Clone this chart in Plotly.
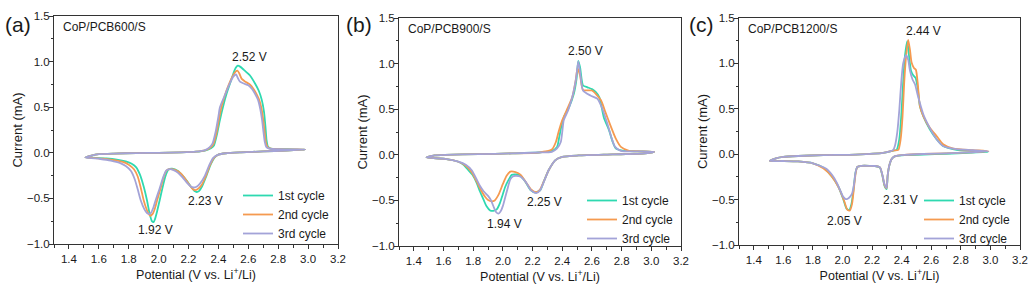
import plotly.graph_objects as go

# ---------------- data ----------------
CYCLES = ["1st cycle", "2nd cycle", "3rd cycle"]
COLORS = ["#2ED9B0", "#F59A50", "#A3A3D8"]
PANEL_TAGS = ["(a)", "(b)", "(c)"]
SAMPLES = ["CoP/PCB600/S", "CoP/PCB900/S", "CoP/PCB1200/S"]

# Panel (a) CoP/PCB600/S
A1_V = [2.98, 2.85, 2.70, 2.55, 2.45, 2.40, 2.375, 2.35, 2.32, 2.29, 2.27, 2.255, 2.24, 2.22, 2.19, 2.16, 2.13, 2.09,
        2.065, 2.045, 2.025, 2.007, 1.99, 1.975, 1.967, 1.955, 1.94, 1.922, 1.90, 1.875, 1.85, 1.82, 1.78, 1.72, 1.65,
        1.58, 1.51,
        1.55, 1.60, 1.70, 1.85, 2.00, 2.15, 2.25, 2.31, 2.35, 2.37, 2.39, 2.41, 2.43, 2.455, 2.48, 2.50, 2.515, 2.53,
        2.545, 2.57, 2.61, 2.645, 2.67, 2.69, 2.705, 2.715, 2.722, 2.732, 2.75, 2.80, 2.90, 2.98]
A1_I = [0.035, 0.025, 0.015, 0.005, -0.005, -0.02, -0.05, -0.12, -0.25, -0.37, -0.42, -0.43, -0.42, -0.38, -0.31,
        -0.25, -0.20, -0.175, -0.185, -0.26, -0.39, -0.52, -0.64, -0.73, -0.76, -0.75, -0.67, -0.52, -0.37, -0.24,
        -0.16, -0.12, -0.095, -0.075, -0.062, -0.055, -0.05,
        -0.03, -0.015, -0.008, -0.003, 0.0, 0.005, 0.012, 0.025, 0.05, 0.08, 0.2, 0.36, 0.5, 0.65, 0.77, 0.87, 0.93,
        0.955, 0.945, 0.91, 0.85, 0.76, 0.68, 0.58, 0.45, 0.28, 0.14, 0.065, 0.045, 0.04, 0.038, 0.035]
A2_V = [2.98, 2.85, 2.70, 2.55, 2.45, 2.40, 2.37, 2.345, 2.315, 2.285, 2.26, 2.244, 2.23, 2.21, 2.18, 2.15, 2.12, 2.08,
        2.055, 2.035, 2.015, 1.99, 1.975, 1.96, 1.944, 1.93, 1.915, 1.90, 1.88, 1.86, 1.835, 1.80, 1.76, 1.70, 1.63,
        1.56, 1.51,
        1.55, 1.60, 1.70, 1.85, 2.00, 2.15, 2.25, 2.31, 2.345, 2.365, 2.385, 2.405, 2.42, 2.445, 2.47, 2.495, 2.515,
        2.527, 2.54, 2.556, 2.58, 2.61, 2.635, 2.656, 2.675, 2.69, 2.70, 2.71, 2.718, 2.73, 2.75, 2.80, 2.90, 2.98]
A2_I = [0.035, 0.025, 0.015, 0.005, -0.005, -0.02, -0.055, -0.13, -0.26, -0.36, -0.40, -0.41, -0.40, -0.36, -0.29,
        -0.23, -0.195, -0.18, -0.19, -0.26, -0.38, -0.52, -0.61, -0.67, -0.69, -0.66, -0.60, -0.52, -0.38, -0.26,
        -0.18, -0.13, -0.10, -0.08, -0.065, -0.056, -0.05,
        -0.03, -0.015, -0.008, -0.003, 0.0, 0.005, 0.013, 0.027, 0.055, 0.09, 0.2, 0.38, 0.5, 0.64, 0.75, 0.84, 0.89,
        0.90, 0.87, 0.81, 0.78, 0.75, 0.70, 0.64, 0.57, 0.47, 0.36, 0.22, 0.11, 0.06, 0.045, 0.04, 0.037, 0.035]
A3_V = [2.98, 2.85, 2.70, 2.55, 2.45, 2.40, 2.365, 2.34, 2.31, 2.275, 2.25, 2.233, 2.215, 2.19, 2.16, 2.13, 2.10, 2.075,
        2.05, 2.03, 2.005, 1.98, 1.965, 1.95, 1.935, 1.922, 1.905, 1.88, 1.86, 1.84, 1.815, 1.78, 1.74, 1.68, 1.61,
        1.55, 1.51,
        1.55, 1.60, 1.70, 1.85, 2.00, 2.15, 2.25, 2.31, 2.34, 2.36, 2.38, 2.40, 2.41, 2.44, 2.465, 2.49, 2.508, 2.518,
        2.53, 2.544, 2.57, 2.60, 2.625, 2.644, 2.665, 2.68, 2.692, 2.702, 2.71, 2.72, 2.74, 2.80, 2.90, 2.98]
A3_I = [0.035, 0.025, 0.015, 0.005, -0.005, -0.02, -0.055, -0.13, -0.25, -0.34, -0.375, -0.38, -0.37, -0.33, -0.27,
        -0.22, -0.19, -0.18, -0.195, -0.27, -0.40, -0.52, -0.60, -0.655, -0.67, -0.66, -0.62, -0.52, -0.40, -0.29,
        -0.20, -0.145, -0.11, -0.085, -0.068, -0.058, -0.05,
        -0.03, -0.015, -0.008, -0.003, 0.0, 0.005, 0.013, 0.03, 0.06, 0.10, 0.22, 0.40, 0.50, 0.62, 0.72, 0.81, 0.85,
        0.86, 0.82, 0.78, 0.76, 0.74, 0.70, 0.65, 0.58, 0.48, 0.36, 0.22, 0.12, 0.065, 0.045, 0.04, 0.037, 0.035]

# Panel (b) CoP/PCB900/S
B1_V = [3.02, 2.96, 2.74, 2.51, 2.40, 2.354, 2.309, 2.275, 2.253, 2.219, 2.185, 2.151, 2.117, 2.09, 2.06, 2.04, 2.016,
        1.998, 1.98, 1.96, 1.935, 1.914, 1.89, 1.869, 1.845, 1.824, 1.795, 1.767, 1.735, 1.70, 1.61, 1.485,
        1.54, 1.61, 1.835, 2.06, 2.24, 2.33, 2.365, 2.38, 2.395, 2.415, 2.445, 2.478, 2.496, 2.508, 2.52, 2.54, 2.57,
        2.60, 2.625, 2.65, 2.68, 2.715, 2.74, 2.76, 2.806, 2.90, 3.02]
B1_I = [0.033, 0.015, 0.004, -0.007, -0.022, -0.058, -0.167, -0.295, -0.385, -0.415, -0.385, -0.295, -0.23, -0.215,
        -0.22, -0.27, -0.35, -0.44, -0.53, -0.595, -0.615, -0.61, -0.565, -0.49, -0.40, -0.31, -0.22, -0.167, -0.11,
        -0.076, -0.044, -0.03,
        -0.007, 0.0, 0.007, 0.015, 0.025, 0.044, 0.087, 0.196, 0.32, 0.43, 0.52, 0.67, 0.83, 1.03, 0.96, 0.76, 0.74,
        0.72, 0.69, 0.63, 0.41, 0.27, 0.14, 0.07, 0.045, 0.038, 0.033]
B2_V = [3.02, 2.96, 2.74, 2.51, 2.40, 2.354, 2.309, 2.275, 2.25, 2.225, 2.19, 2.155, 2.12, 2.085, 2.05, 2.025, 2.0,
        1.97, 1.945, 1.925, 1.90, 1.88, 1.85, 1.824, 1.79, 1.75, 1.70, 1.61, 1.485,
        1.54, 1.61, 1.835, 2.06, 2.24, 2.33, 2.357, 2.375, 2.40, 2.43, 2.467, 2.49, 2.503, 2.52, 2.54, 2.60, 2.66,
        2.69, 2.725, 2.76, 2.795, 2.85, 2.93, 3.02]
B2_I = [0.033, 0.015, 0.004, -0.007, -0.022, -0.058, -0.167, -0.295, -0.38, -0.41, -0.38, -0.30, -0.22, -0.19, -0.185,
        -0.23, -0.32, -0.44, -0.50, -0.51, -0.495, -0.46, -0.38, -0.295, -0.19, -0.12, -0.076, -0.044, -0.03,
        -0.007, 0.0, 0.007, 0.015, 0.025, 0.058, 0.14, 0.25, 0.38, 0.49, 0.63, 0.81, 0.95, 0.87, 0.71, 0.705, 0.60,
        0.47, 0.32, 0.18, 0.087, 0.044, 0.038, 0.033]
B3_V = [3.02, 2.96, 2.74, 2.51, 2.40, 2.354, 2.309, 2.275, 2.25, 2.225, 2.19, 2.155, 2.12, 2.09, 2.07, 2.05, 2.03,
        2.015, 2.0, 1.985, 1.97, 1.955, 1.94, 1.92, 1.90, 1.87, 1.845, 1.82, 1.79, 1.75, 1.70, 1.61, 1.485,
        1.54, 1.61, 1.835, 2.06, 2.24, 2.33, 2.365, 2.39, 2.40, 2.41, 2.44, 2.47, 2.494, 2.508, 2.52, 2.54, 2.59,
        2.636, 2.67, 2.704, 2.733, 2.756, 2.794, 2.90, 3.02]
B3_I = [0.033, 0.015, 0.004, -0.007, -0.022, -0.058, -0.167, -0.30, -0.39, -0.42, -0.39, -0.30, -0.24, -0.23, -0.235,
        -0.27, -0.38, -0.47, -0.56, -0.62, -0.645, -0.63, -0.58, -0.50, -0.45, -0.40, -0.34, -0.26, -0.17, -0.11,
        -0.075, -0.044, -0.03,
        -0.007, 0.0, 0.007, 0.015, 0.025, 0.033, 0.07, 0.14, 0.25, 0.38, 0.49, 0.65, 0.85, 1.025, 0.905, 0.705, 0.65,
        0.615, 0.505, 0.34, 0.18, 0.087, 0.044, 0.038, 0.033]

# Panel (c) CoP/PCB1200/S
C1_V = [2.986, 2.85, 2.70, 2.546, 2.42, 2.365, 2.345, 2.33, 2.316, 2.305, 2.298, 2.284, 2.27, 2.253, 2.22, 2.185,
        2.128, 2.10, 2.088, 2.08, 2.072, 2.06, 2.045, 2.027, 2.004, 1.97, 1.925, 1.869, 1.80, 1.70, 1.60, 1.508,
        1.55, 1.60, 1.70, 1.87, 2.09, 2.275, 2.343, 2.366, 2.384, 2.397, 2.41, 2.422, 2.438, 2.45, 2.463, 2.478,
        2.494, 2.508, 2.523, 2.546, 2.59, 2.636, 2.68, 2.77, 2.88, 2.986]
C1_I = [0.026, 0.015, 0.005, -0.004, -0.01, -0.018, -0.03, -0.06, -0.128, -0.24, -0.385, -0.35, -0.24, -0.147, -0.13,
        -0.128, -0.128, -0.14, -0.2, -0.30, -0.42, -0.55, -0.615, -0.60, -0.49, -0.35, -0.24, -0.147, -0.10, -0.08,
        -0.075, -0.073,
        -0.045, -0.03, -0.02, -0.01, -0.004, 0.015, 0.04, 0.048, 0.165, 0.42, 0.79, 1.08, 1.245, 1.08, 0.92, 0.87,
        0.84, 0.73, 0.53, 0.42, 0.275, 0.165, 0.09, 0.048, 0.035, 0.026]
C2_V = [2.986, 2.85, 2.70, 2.546, 2.42, 2.365, 2.345, 2.33, 2.316, 2.305, 2.298, 2.284, 2.27, 2.253, 2.22, 2.185,
        2.128, 2.10, 2.09, 2.082, 2.074, 2.064, 2.05, 2.032, 2.01, 1.975, 1.93, 1.87, 1.80, 1.70, 1.60, 1.508,
        1.55, 1.60, 1.70, 1.87, 2.09, 2.275, 2.343, 2.377, 2.393, 2.406, 2.417, 2.43, 2.444, 2.456, 2.467, 2.483,
        2.496, 2.508, 2.523, 2.546, 2.59, 2.636, 2.68, 2.75, 2.88, 2.986]
C2_I = [0.033, 0.02, 0.01, 0.002, -0.008, -0.018, -0.03, -0.058, -0.125, -0.235, -0.375, -0.34, -0.235, -0.145, -0.13,
        -0.128, -0.128, -0.14, -0.2, -0.30, -0.42, -0.55, -0.62, -0.61, -0.51, -0.37, -0.25, -0.155, -0.10, -0.08,
        -0.075, -0.073,
        -0.045, -0.03, -0.02, -0.01, -0.004, 0.015, 0.04, 0.048, 0.165, 0.42, 0.79, 1.08, 1.26, 1.15, 1.01, 0.95,
        0.93, 0.79, 0.53, 0.42, 0.29, 0.20, 0.11, 0.062, 0.045, 0.033]
C3_V = [2.986, 2.85, 2.70, 2.546, 2.42, 2.365, 2.345, 2.33, 2.316, 2.305, 2.298, 2.284, 2.27, 2.253, 2.22, 2.185,
        2.128, 2.10, 2.088, 2.078, 2.065, 2.05, 2.035, 2.022, 2.005, 1.985, 1.96, 1.93, 1.89, 1.80, 1.70, 1.60, 1.508,
        1.55, 1.60, 1.70, 1.87, 2.09, 2.275, 2.343, 2.354, 2.37, 2.384, 2.397, 2.41, 2.43, 2.444, 2.456, 2.474,
        2.49, 2.51, 2.546, 2.59, 2.636, 2.68, 2.77, 2.88, 2.986]
C3_I = [0.033, 0.02, 0.01, 0.002, -0.008, -0.018, -0.03, -0.058, -0.125, -0.235, -0.37, -0.33, -0.23, -0.145, -0.13,
        -0.128, -0.128, -0.14, -0.2, -0.33, -0.43, -0.47, -0.49, -0.495, -0.47, -0.40, -0.31, -0.23, -0.16, -0.10,
        -0.08, -0.075, -0.073,
        -0.045, -0.03, -0.02, -0.01, -0.004, 0.015, 0.048, 0.09, 0.24, 0.49, 0.79, 1.0, 1.09, 1.04, 0.92, 0.82,
        0.77, 0.64, 0.44, 0.29, 0.165, 0.09, 0.055, 0.045, 0.033]

PEAK_LABELS = [
    [("2.52 V", 2.61, 1.05), ("2.23 V", 2.315, -0.525), ("1.92 V", 1.98, -0.846)],
    [("2.50 V", 2.555, 1.138), ("2.25 V", 2.282, -0.521), ("1.94 V", 2.008, -0.759)],
    [("2.44 V", 2.546, 1.352), ("2.31 V", 2.392, -0.503), ("2.05 V", 2.016, -0.735)],
]
X_TICK0, X_DTICK, X_RANGE = 1.4, 0.2, [1.3, 3.2]
Y_DTICK, Y_RANGE = 0.5, [-1.0, 1.5]

PANELS = [
    [(A1_V, A1_I), (A2_V, A2_I), (A3_V, A3_I)],
    [(B1_V, B1_I), (B2_V, B2_I), (B3_V, B3_I)],
    [(C1_V, C1_I), (C2_V, C2_I), (C3_V, C3_I)],
]

# ---------------- layout geometry (pixels of a 1035x289 canvas) ----------------
W, H = 1035, 289
X_DOMAINS_PX = [(54, 338), (399, 681), (739, 1020)]
Y_DOMAINS_PX = [(16, 244), (18, 246), (18, 245)]
LEGEND_POS_PX = [(238, 181), (582, 186), (919, 186)]
TAG_POS_PX = [(18, 25), (359, 25), (701, 25)]

FONT = "Liberation Sans, Arial, sans-serif"
AX_COLOR = "#333333"
TXT = "#1a1a1a"

fig = go.Figure()
legend_names = ["legend", "legend2", "legend3"]

for p, curves in enumerate(PANELS):
    sfx = "" if p == 0 else str(p + 1)
    for c, (v, i) in enumerate(curves):
        assert len(v) == len(i), (p, c, len(v), len(i))
        fig.add_trace(go.Scatter(
            x=v, y=i, mode="lines", name=CYCLES[c],
            line=dict(color=COLORS[c], width=1.8, shape="spline", smoothing=0.6),
            xaxis="x" + sfx, yaxis="y" + sfx, legend=legend_names[p],
            hoverinfo="skip",
        ))

layout = dict(
    width=W, height=H, margin=dict(l=0, r=0, t=0, b=0),
    paper_bgcolor="white", plot_bgcolor="white",
    font=dict(family=FONT, size=12, color=TXT),
    showlegend=True,
)

annotations = []
for p in range(3):
    sfx = "" if p == 0 else str(p + 1)
    x0, x1 = X_DOMAINS_PX[p]
    yt, yb = Y_DOMAINS_PX[p]
    common = dict(showline=True, linecolor=AX_COLOR, linewidth=1, mirror=True,
                  showgrid=False, zeroline=False, ticks="outside", ticklen=4,
                  tickwidth=1, tickcolor=AX_COLOR, tickfont=dict(size=11.5, color=TXT),
                  automargin=False)
    layout["xaxis" + sfx] = dict(
        domain=[x0 / W, x1 / W], range=X_RANGE, tick0=X_TICK0, dtick=X_DTICK,
        tickformat=".1f", anchor="y" + sfx,
        minor=dict(dtick=X_DTICK / 2, ticks="outside", ticklen=2.5, tickcolor=AX_COLOR),
        title=dict(text="Potential (V vs. Li<sup>+</sup>/Li)", font=dict(size=12.5), standoff=6),
        **common)
    layout["yaxis" + sfx] = dict(
        domain=[1 - yb / H, 1 - yt / H], range=Y_RANGE, tick0=0, dtick=Y_DTICK,
        tickformat=".1f", anchor="x" + sfx, ticklabelstandoff=-3,
        minor=dict(dtick=Y_DTICK / 2, ticks="outside", ticklen=2.5, tickcolor=AX_COLOR),
        title=dict(text="Current (mA)", font=dict(size=13), standoff=1),
        **common)
    lx, ly = LEGEND_POS_PX[p]
    layout[legend_names[p]] = dict(
        x=lx / W, y=1 - ly / H, xanchor="left", yanchor="top",
        bgcolor="rgba(0,0,0,0)", borderwidth=0, font=dict(size=12, color=TXT),
        itemwidth=30, tracegroupgap=0)
    for text, xv, yv in PEAK_LABELS[p]:
        annotations.append(dict(text=text, x=xv, y=yv, xref="x" + sfx, yref="y" + sfx,
                                showarrow=False, font=dict(size=12, color=TXT)))
    annotations.append(dict(text=SAMPLES[p], x=0.025, y=0.99, xref="x" + sfx + " domain",
                            yref="y" + sfx + " domain", xanchor="left", yanchor="top",
                            showarrow=False, font=dict(size=12, color=TXT)))
    tx, ty = TAG_POS_PX[p]
    annotations.append(dict(text=PANEL_TAGS[p], x=tx / W, y=1 - ty / H, xref="paper", yref="paper",
                            xanchor="center", yanchor="middle",
                            showarrow=False, font=dict(size=21, color=TXT)))

layout["annotations"] = annotations
fig.update_layout(**layout)
fig.write_html("out.html")
